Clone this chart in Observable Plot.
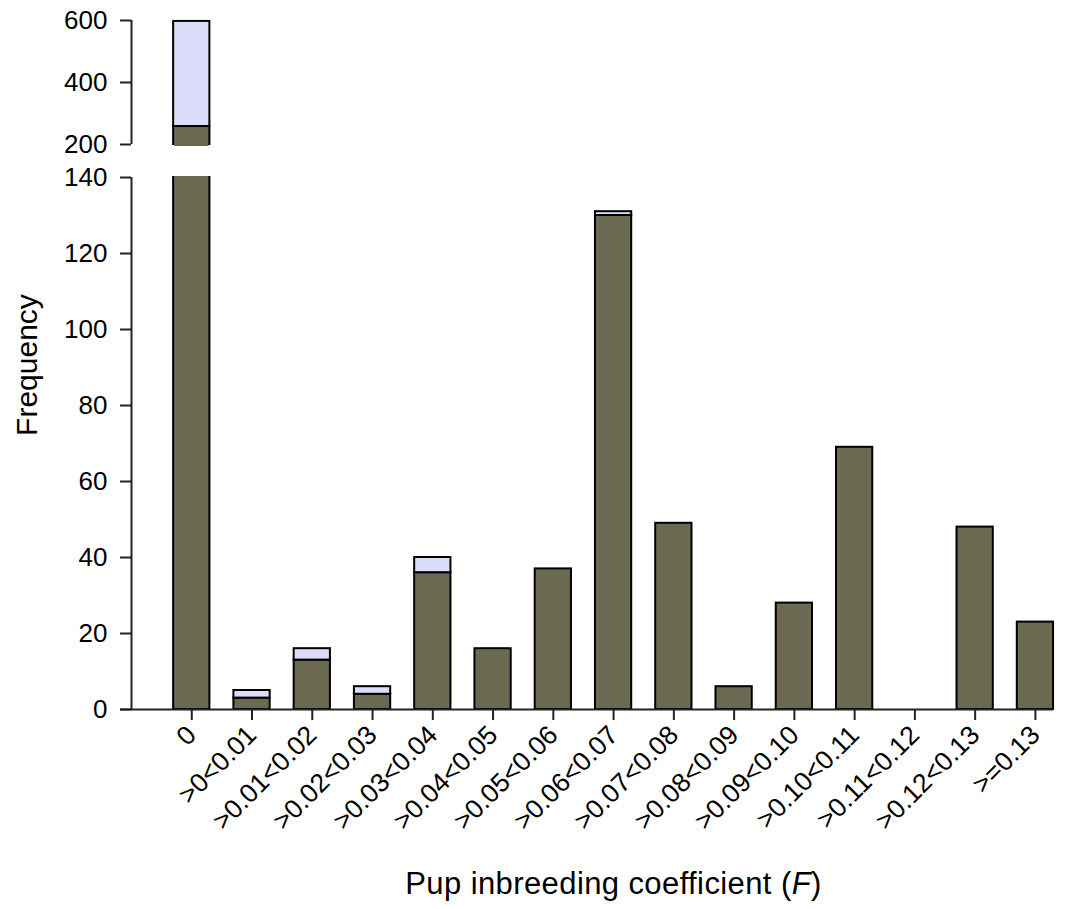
<!DOCTYPE html>
<html><head><meta charset="utf-8">
<script src="https://cdn.jsdelivr.net/npm/d3@7"></script>
<script src="https://cdn.jsdelivr.net/npm/@observablehq/plot@0.6"></script>
<style>html,body{margin:0;padding:0;background:#fff} #chart svg{display:block}</style>
</head><body><div id="chart"></div>
<script>
// Categories (pup inbreeding coefficient bins)
const categories = ["0", ">0<0.01", ">0.01<0.02", ">0.02<0.03", ">0.03<0.04", ">0.04<0.05", ">0.05<0.06", ">0.06<0.07", ">0.07<0.08", ">0.08<0.09", ">0.09<0.10", ">0.10<0.11", ">0.11<0.12", ">0.12<0.13", ">=0.13"];
// Lower (dark) series frequencies
const darkSeries = [258, 3, 13, 4, 36, 16, 37, 130, 49, 6, 28, 69, 0, 48, 23];
// Upper (light) series frequencies, stacked on top
const lightSeries = [339, 2, 3, 2, 4, 0, 0, 1, 0, 0, 0, 0, 0, 0, 0];
// Y tick values (broken axis: 0–140 and 200–600)
const yTicks = [0, 20, 40, 60, 80, 100, 120, 140, 200, 400, 600];
const yBreak = [140, 200];
const yMax = 600;
const xTitle = "Pup inbreeding coefficient (F)";
const yTitle = "Frequency";

const darkColor = "#6c6953";
const lightColor = "#dcdcfb";

// Build stacked segments, split at the axis break
const rows = [];
const cuts = [];
categories.forEach((c, i) => {
  const segs = [["dark", 0, darkSeries[i]], ["light", darkSeries[i], darkSeries[i] + lightSeries[i]]];
  for (const [s, a, b] of segs) {
    if (b <= a) continue;
    if (a < yBreak[0]) {
      rows.push({i, s, y1: a, y2: Math.min(b, yBreak[0])});
      if (b > yBreak[0]) cuts.push({i, s, y: yBreak[0]});
    }
    if (b > yBreak[1]) {
      rows.push({i, s, y1: Math.max(a, yBreak[1]), y2: b});
      if (a < yBreak[1]) cuts.push({i, s, y: yBreak[1]});
    }
  }
});
const xDomain = [-1, categories.length - 0.7];
const spine = [{y1: 0, y2: yBreak[0]}, {y1: yBreak[1], y2: yMax}];

const chart = Plot.plot({
  width: 1086, height: 909,
  marginLeft: 131, marginRight: 33, marginTop: 20, marginBottom: 200,
  style: {fontFamily: '"Liberation Sans", Arial, sans-serif', background: "#fff", color: "#000"},
  x: {type: "linear", domain: xDomain, axis: null},
  y: {type: "linear", domain: [0, yBreak[0], yBreak[1], yMax], range: [709, 177, 144, 20], axis: null},
  color: {domain: ["dark", "light"], range: [darkColor, lightColor]},
  marks: [
    Plot.rectY(rows, {x1: d => d.i - 0.5, x2: d => d.i + 0.5, y1: "y1", y2: "y2", insetLeft: 12, insetRight: 12, fill: "s", stroke: "#000", strokeWidth: 2}),
    // hide the horizontal edges where bars are cut by the axis break
    Plot.ruleY(cuts, {x1: d => d.i - 0.5, x2: d => d.i + 0.5, y: "y", insetLeft: 13, insetRight: 13, stroke: "s", strokeWidth: 3}),
    Plot.ruleX(spine, {x: () => xDomain[0], y1: "y1", y2: "y2", stroke: "#222", strokeWidth: 2}),
    Plot.ruleY([0], {insetLeft: -11, stroke: "#222", strokeWidth: 2}),
    Plot.axisY({ticks: yTicks, tickSize: 11, tickPadding: 13, fontSize: 26, label: null, strokeWidth: 2, stroke: "#222"}),
    Plot.axisX({ticks: d3.range(categories.length), tickFormat: i => categories[i], tickRotate: -45, tickSize: 11, tickPadding: 10, fontSize: 26.5, label: null, strokeWidth: 2, stroke: "#222"}),
    Plot.text([yTitle], {frameAnchor: "left", textAnchor: "middle", dx: -104, rotate: -90, fontSize: 30}),
    Plot.text([xTitle], {frameAnchor: "bottom", dx: 21, dy: 184, fontSize: 31})
  ]
});
document.getElementById("chart").appendChild(chart);
// italic F in x title
d3.select(chart).selectAll("text").filter(function(){ return this.textContent === xTitle; })
  .each(function(){
    const t = d3.select(this);
    t.attr("letter-spacing", "0.4px");
    t.text(null);
    t.append("tspan").text("Pup inbreeding coefficient (");
    t.append("tspan").attr("font-style", "italic").text("F");
    t.append("tspan").text(")");
  });
</script>
</body></html>
